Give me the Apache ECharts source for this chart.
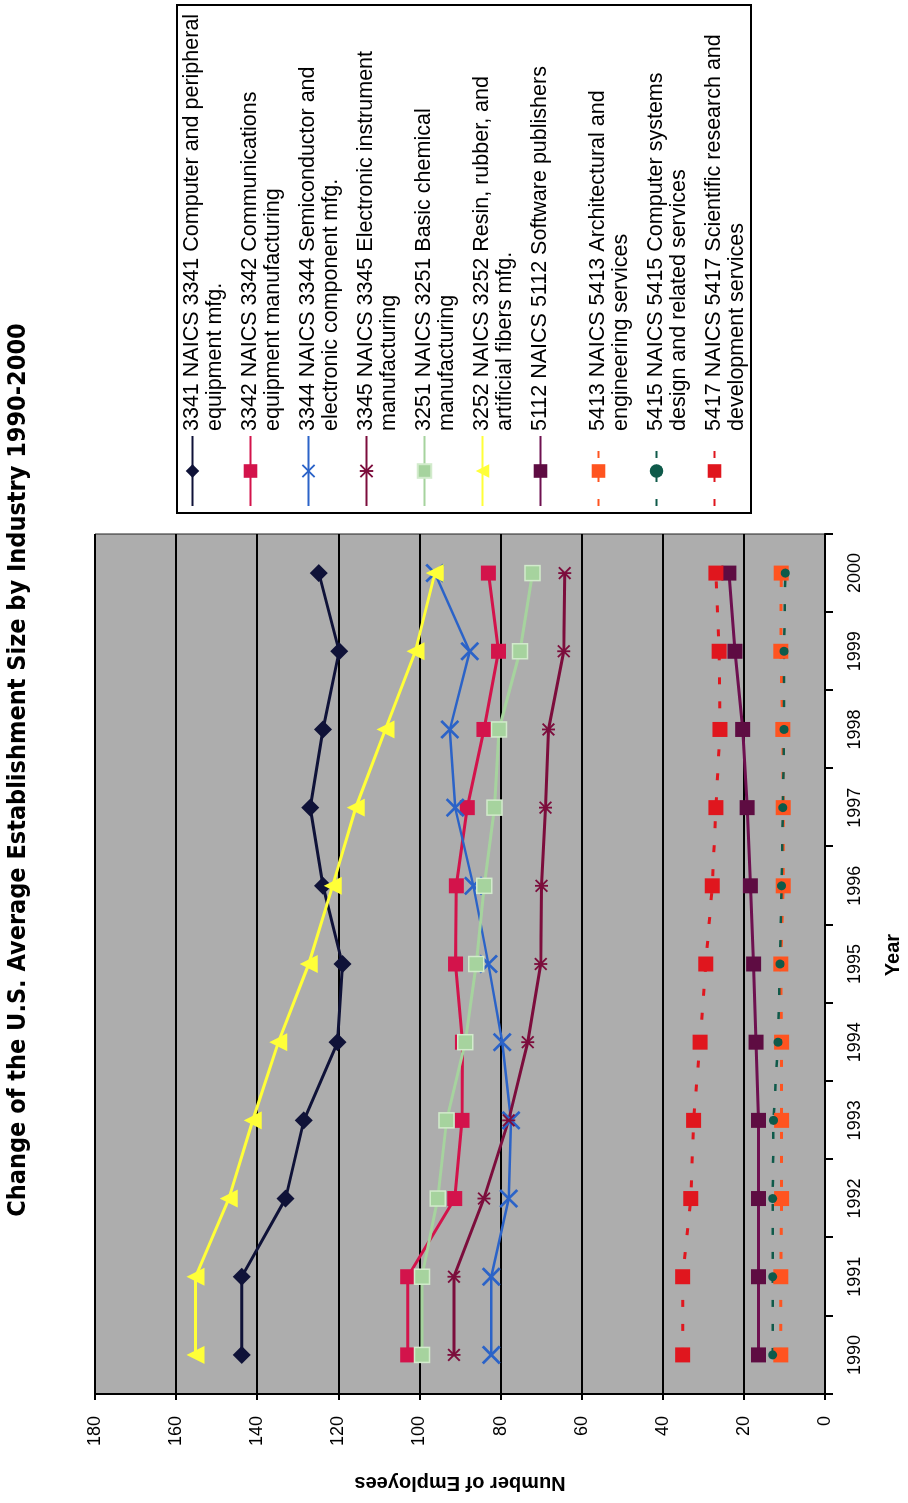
<!DOCTYPE html>
<html>
<head>
<meta charset="utf-8">
<script src="https://cdn.jsdelivr.net/npm/echarts@6/dist/echarts.min.js"></script>
<style>
  html, body { margin: 0; padding: 0; background: #fff; overflow: hidden; }
  /* Landscape chart turned a quarter-turn counter-clockwise to sit on the portrait page */
  #stage {
    position: absolute; left: 0; top: 0;
    width: 1503px; height: 908px;
    transform-origin: 0 0;
    transform: translateY(1503px) rotate(-90deg);
  }
</style>
</head>
<body>
<div id="stage"></div>
<script>
// Years on the category axis
const years = ['1990', '1991', '1992', '1993', '1994', '1995', '1996', '1997', '1998', '1999', '2000'];

// Value axis ticks
const valueMin = 0;
const valueMax = 180;
const valueStep = 20;

// Legend entries (two text lines each)
const names = [
  '3341 NAICS 3341 Computer and peripheral\nequipment mfg.',
  '3342 NAICS 3342 Communications\nequipment manufacturing',
  '3344 NAICS 3344 Semiconductor and\nelectronic component mfg.',
  '3345 NAICS 3345 Electronic instrument\nmanufacturing',
  '3251 NAICS 3251 Basic chemical\nmanufacturing',
  '3252 NAICS 3252 Resin, rubber, and\nartificial fibers mfg.',
  '5112 NAICS 5112 Software publishers\n ',
  '5413 NAICS 5413 Architectural and\nengineering services',
  '5415 NAICS 5415 Computer systems\ndesign and related services',
  '5417 NAICS 5417 Scientific research and\ndevelopment services'
];

// Average number of employees per establishment, 1990-2000
const s3341 = [143.8, 143.8, 133.0, 128.5, 120.2, 119.0, 123.8, 126.9, 123.8, 119.8, 124.8];
const s3342 = [102.9, 102.9, 91.3, 89.5, 89.4, 91.1, 90.9, 88.2, 84.1, 80.5, 83.0];
const s3344 = [82.3, 82.3, 78.0, 77.4, 79.6, 83.0, 86.7, 91.2, 92.5, 87.6, 96.2];
const s3345 = [91.5, 91.5, 84.1, 78.0, 73.3, 70.1, 69.9, 68.9, 68.2, 64.4, 64.2];
const s3251 = [99.4, 99.4, 95.5, 93.3, 88.7, 86.0, 84.0, 81.5, 80.4, 75.2, 72.1];
const s3252 = [155.2, 155.2, 147.0, 141.1, 134.8, 127.3, 121.4, 115.7, 108.4, 101.0, 96.2];
const s5112 = [16.4, 16.4, 16.4, 16.4, 17.0, 17.6, 18.4, 19.2, 20.3, 22.2, 23.7];
const s5413 = [10.9, 10.9, 10.7, 10.7, 10.7, 10.9, 10.3, 10.3, 10.4, 10.9, 10.8];
const s5415 = [12.9, 12.9, 12.9, 12.7, 11.6, 11.1, 10.7, 10.4, 10.1, 10.1, 9.8];
const s5417 = [35.1, 35.1, 33.1, 32.4, 30.8, 29.4, 27.8, 26.9, 25.9, 26.1, 26.9];

// Marker shapes
const crossMark = 'path://M0,1L1,0L5,4L9,0L10,1L6,5L10,9L9,10L5,6L1,10L0,9L4,5Z';
const starMark = 'path://M0,1L1,0L5,4L9,0L10,1L6,5L10,9L9,10L5,6L1,10L0,9L4,5Z M4.3,0L5.7,0L5.7,10L4.3,10Z';

const FONT = "'Liberation Sans', Arial, Helvetica, sans-serif";
const NARROW = "'Liberation Sans Narrow', 'Arial Narrow', 'DejaVu Sans Condensed', 'Liberation Sans', sans-serif";

function line(name, data, color, symbol, size, extra) {
  extra = extra || {};
  return {
    type: 'line',
    name: name,
    data: data,
    symbol: symbol,
    symbolSize: size,
    showSymbol: true,
    showAllSymbol: true,
    lineStyle: { color: extra.lineColor || color, width: extra.width || 3, type: extra.dash || 'solid' },
    itemStyle: {
      color: color,
      borderColor: extra.border || color,
      borderWidth: extra.borderWidth || 0
    },
    emphasis: { disabled: true },
    animation: false
  };
}

const chart = echarts.init(document.getElementById('stage'), null, { renderer: 'canvas', width: 1503, height: 908 });

chart.setOption({
  animation: false,
  backgroundColor: '#ffffff',
  textStyle: { fontFamily: FONT },
  title: {
    text: 'Change of the U.S. Average Establishment Size by Industry 1990-2000',
    left: 733,
    textAlign: 'center',
    top: 6,
    padding: 0,
    textStyle: { fontFamily: NARROW, fontWeight: 'bold', fontSize: 25, color: '#000' }
  },
  grid: {
    left: 109, right: 534, top: 95, bottom: 76,
    show: true,
    backgroundColor: '#adadad',
    borderColor: '#222',
    borderWidth: 1
  },
  graphic: [{
    type: 'rect',
    z: 0,
    shape: { x: 990, y: 177, width: 508, height: 574 },
    style: { fill: '#ffffff', stroke: '#000', lineWidth: 2 }
  }],
  legend: {
    orient: 'vertical',
    left: 996,
    top: 158,
    padding: 0,
    itemWidth: 70,
    itemHeight: 17,
    itemGap: -11,
    selectedMode: false,
    z: 5,
    // a blank leading line keeps the icon level with each entry's first line
    formatter: function (n) { return ' \n' + n; },
    textStyle: { fontFamily: FONT, fontSize: 21.5, lineHeight: 23, color: '#000' },
    data: names
  },
  xAxis: {
    type: 'category',
    data: years,
    boundaryGap: true,
    name: 'Year',
    nameLocation: 'middle',
    nameGap: 58,
    nameTextStyle: { fontFamily: FONT, fontWeight: 'bold', fontSize: 20, color: '#000', padding: [0, 0, 0, 18] },
    axisLine: { show: true, lineStyle: { color: '#000', width: 2 } },
    axisTick: { show: true, length: 8, lineStyle: { color: '#000', width: 2 } },
    axisLabel: { fontFamily: FONT, fontSize: 18, color: '#000', margin: 21 },
    splitLine: { show: false }
  },
  yAxis: {
    type: 'value',
    min: valueMin,
    max: valueMax,
    interval: valueStep,
    name: 'Number of Employees',
    nameLocation: 'middle',
    nameRotate: 90,
    nameGap: 79,
    nameTextStyle: { fontFamily: FONT, fontWeight: 'bold', fontSize: 20, color: '#000' },
    axisLine: { show: true, lineStyle: { color: '#000', width: 2 } },
    axisTick: { show: true, length: 6, lineStyle: { color: '#000', width: 2 } },
    axisLabel: { fontFamily: FONT, fontSize: 18, color: '#000', margin: 22 },
    splitLine: { show: true, lineStyle: { color: '#000', width: 2 } }
  },
  series: [
    line(names[0], s3341, '#0f1238', 'diamond', 18),
    line(names[1], s3342, '#d3134b', 'rect', 15),
    line(names[2], s3344, '#2b63c8', crossMark, 19, { width: 2.5 }),
    line(names[3], s3345, '#7c0d3c', starMark, 13),
    line(names[4], s3251, '#a6d39e', 'rect', 15, { border: '#d2ebcc', borderWidth: 1.5 }),
    line(names[5], s3252, '#ffff38', 'triangle', 18),
    line(names[6], s5112, '#5e0c42', 'rect', 15, { lineColor: '#6e1050' }),
    line(names[7], s5413, '#ff5420', 'rect', 15, { dash: [7, 17] }),
    line(names[8], s5415, '#0f5a4a', 'circle', 9, { width: 2.5, dash: [7, 17] }),
    line(names[9], s5417, '#e0161e', 'rect', 15, { dash: [7, 17] })
  ]
});
</script>
</body>
</html>
